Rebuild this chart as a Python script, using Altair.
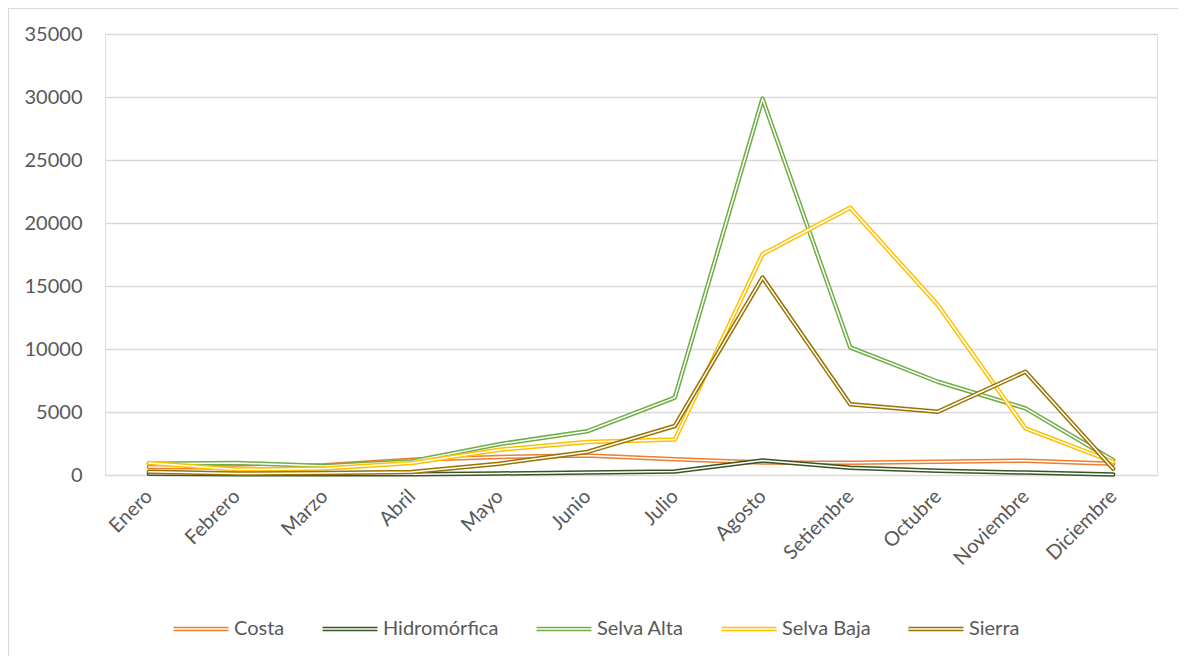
import altair as alt
import pandas as pd

months = ["Enero", "Febrero", "Marzo", "Abril", "Mayo", "Junio", "Julio",
          "Agosto", "Setiembre", "Octubre", "Noviembre", "Diciembre"]
series_names = ["Costa", "Hidromórfica", "Selva Alta", "Selva Baja", "Sierra"]
series_colors = ["#ED7D31", "#375623", "#70AD47", "#FFC000", "#997300"]

costa = [640, 600, 770, 1220, 1430, 1550, 1250, 1000, 980, 1060, 1140, 900]
hidromorfica = [100, 50, 50, 60, 120, 200, 280, 1150, 580, 330, 190, 40]
selva_alta = [900, 950, 720, 1090, 2450, 3470, 6140, 29870, 10130, 7400, 5290, 1170]
selva_baja = [950, 430, 510, 950, 2000, 2620, 2810, 17520, 21210, 13490, 3700, 1030]
sierra = [250, 110, 160, 240, 900, 1830, 3890, 15670, 5610, 5020, 8200, 500]

values = [costa, hidromorfica, selva_alta, selva_baja, sierra]
rows = []
for name, vals in zip(series_names, values):
    for m, v in zip(months, vals):
        rows.append({"mes": m, "serie": name, "serie_w": "w:" + name, "valor": v})
df = pd.DataFrame(rows)

FONT = "Lato"
TXT = "#595959"
GRID = "#D9D9D9"

x_enc = alt.X("mes:N", sort=months, scale=alt.Scale(padding=0.5),
              axis=alt.Axis(title=None, labelAngle=-45, labelAlign="right",
                            labelBaseline="middle", labelPadding=18,
                            ticks=False, domain=False, grid=False,
                            labelFont=FONT, labelFontSize=20, labelColor=TXT))
y_enc = alt.Y("valor:Q", scale=alt.Scale(domain=[0, 35000], nice=False),
              axis=alt.Axis(title=None, values=list(range(0, 35001, 5000)),
                            format="d",
                            ticks=False, domain=False, grid=True,
                            gridColor=GRID, gridWidth=1.3,
                            labelPadding=23, labelFont=FONT, labelFontSize=20,
                            labelColor=TXT))

leg_common = dict(orient="none", legendX=66, legendY=565, direction="horizontal",
                  title=None, symbolType="stroke",
                  labelFont=FONT, labelFontSize=20, labelOffset=3,
                  padding=0)

color_enc = alt.Color("serie:N",
                      scale=alt.Scale(domain=series_names, range=series_colors),
                      legend=alt.Legend(symbolStrokeWidth=4.5, symbolSize=3025,
                                        columnPadding=28,
                                        labelColor=TXT, **leg_common))
white_enc = alt.Stroke("serie_w:N",
                       scale=alt.Scale(domain=["w:" + s for s in series_names],
                                       range=["#FFFFFF"] * 5),
                       legend=alt.Legend(symbolStrokeWidth=1.5, symbolSize=3422,
                                         columnPadding=32.5,
                                         labelColor="rgba(0,0,0,0)",
                                         labelExpr="substring(datum.label, 2)",
                                         **leg_common))

base = alt.Chart(df)
layers = []
# chart border (left and top edges)
layers.append(base.mark_rule(color=GRID, strokeWidth=1).encode(
    x=alt.value(-96.5), y=alt.value(-25.5), y2=alt.value(622)))
layers.append(base.mark_rule(color=GRID, strokeWidth=1).encode(
    x=alt.value(-96.5), x2=alt.value(1073), y=alt.value(-25.5)))

for name in series_names:
    sub = base.transform_filter(alt.datum.serie == name)
    layers.append(sub.mark_line(strokeWidth=4.5, strokeJoin="round",
                                strokeCap="round").encode(
        x=x_enc, y=y_enc, color=color_enc))
    layers.append(sub.mark_line(strokeWidth=1.5, strokeJoin="round",
                                strokeCap="round").encode(
        x=x_enc, y=y_enc, stroke=white_enc))

chart = alt.layer(*layers).properties(
    width=1052, height=441,
    autosize=alt.AutoSizeParams(type="none"),
    padding={"left": 97, "top": 26, "right": 21, "bottom": 181},
).configure_view(stroke=None).configure(background="white")

chart.save("out.html", embed_options={"renderer": "svg", "actions": False})
